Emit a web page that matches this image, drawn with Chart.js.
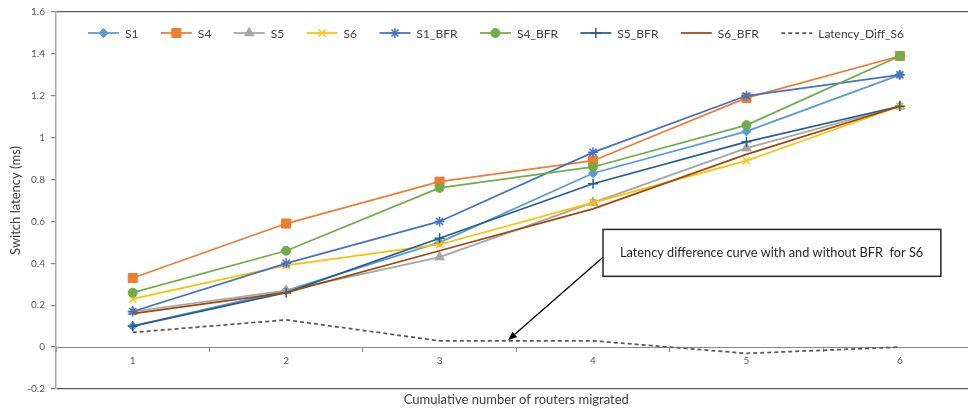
<!DOCTYPE html>
<html>
<head>
<meta charset="utf-8">
<script src="https://cdn.jsdelivr.net/npm/chart.js"></script>
<style>
  html, body { margin: 0; padding: 0; background: #fff; overflow: hidden; }
  #myChart { display: block; }
</style>
</head>
<body>
<!-- plot runs a little past the right edge of the window, like the cropped original -->
<canvas id="myChart" width="984" height="412"></canvas>
<script>
// values
const routers = ['1', '2', '3', '4', '5', '6'];
const s1 = [0.10, 0.27, 0.50, 0.83, 1.03, 1.30];
const s4 = [0.33, 0.59, 0.79, 0.89, 1.19, 1.39];
const s5 = [0.17, 0.27, 0.43, 0.69, 0.95, 1.15];
const s6 = [0.23, 0.39, 0.49, 0.69, 0.89, 1.15];
const s1Bfr = [0.17, 0.40, 0.60, 0.93, 1.20, 1.30];
const s4Bfr = [0.26, 0.46, 0.76, 0.86, 1.06, 1.39];
const s5Bfr = [0.10, 0.26, 0.52, 0.78, 0.98, 1.15];
const s6Bfr = [0.16, 0.26, 0.46, 0.66, 0.92, 1.15];
const latencyDiffS6 = [0.07, 0.13, 0.03, 0.03, -0.03, 0.00];

const yTicks = [-0.2, 0, 0.2, 0.4, 0.6, 0.8, 1, 1.2, 1.4, 1.6];
const noteText = 'Latency difference curve with and without BFR  for S6';

const FONT = 'Lato, "Liberation Sans", sans-serif';

function line(label, data, color, marker, radius, filled, dash) {
  return {
    label: label,
    data: data,
    borderColor: color,
    backgroundColor: filled ? color : 'transparent',
    borderWidth: 1.75,
    borderDash: dash || [],
    pointStyle: marker || false,
    pointRadius: marker ? radius : 0,
    pointBorderColor: color,
    pointBackgroundColor: filled ? color : 'transparent',
    pointBorderWidth: filled ? 1 : 1.5,
    tension: 0
  };
}

const datasets = [
  line('S1', s1, '#5B9BD5', 'rectRot', 4.5, true),
  line('S4', s4, '#ED7D31', 'rect', 6.4, true),
  line('S5', s5, '#A5A5A5', 'triangle', 5.5, true),
  line('S6', s6, '#FFC000', 'crossRot', 5, false),
  line('S1_BFR', s1Bfr, '#4472C4', 'star', 5, false),
  line('S4_BFR', s4Bfr, '#70AD47', 'circle', 4.5, true),
  line('S5_BFR', s5Bfr, '#255E91', 'cross', 5, false),
  line('S6_BFR', s6Bfr, '#9E480E', false, 0, false),
  line('Latency_Diff_S6', latencyDiffS6, '#595959', false, 0, false, [4, 3])
];
// later series sit on top, like the original
datasets.forEach((d, i) => { d.order = -i; });

function near(a, b) { return Math.abs(a - b) < 1e-6; }

const extras = {
  id: 'extras',
  afterDraw(chart) {
    const ctx = chart.ctx;
    const area = chart.chartArea;
    const xs = chart.scales.x;
    const ys = chart.scales.y;

    // legend along the top, inside the plot
    ctx.save();
    ctx.font = '12px ' + FONT;
    ctx.textBaseline = 'middle';
    let lx = 88;
    const ly = 33;
    chart.data.datasets.forEach(d => {
      ctx.strokeStyle = d.borderColor;
      ctx.lineWidth = d.borderWidth;
      ctx.setLineDash(d.borderDash);
      ctx.beginPath();
      ctx.moveTo(lx, ly);
      ctx.lineTo(lx + 31, ly);
      ctx.stroke();
      ctx.setLineDash([]);
      if (d.pointStyle) {
        ctx.fillStyle = d.pointBackgroundColor;
        ctx.strokeStyle = d.pointBorderColor;
        ctx.lineWidth = d.pointBorderWidth;
        Chart.helpers.drawPoint(ctx, {pointStyle: d.pointStyle, radius: d.pointRadius, rotation: 0, borderWidth: d.pointBorderWidth}, lx + 15.5, ly);
      }
      ctx.fillStyle = '#404040';
      ctx.textAlign = 'left';
      ctx.fillText(d.label, lx + 37, ly + 1);
      lx += 37 + ctx.measureText(d.label).width + 22.4;
    });
    ctx.restore();

    // x axis title
    ctx.save();
    ctx.font = '13px ' + FONT;
    ctx.fillStyle = '#404040';
    ctx.textAlign = 'center';
    ctx.textBaseline = 'middle';
    ctx.fillText('Cumulative number of routers migrated', (area.left + area.right) / 2, 400);
    ctx.restore();

    // callout box with arrow pointing at the difference curve
    const bx1 = xs.getPixelForValue(3.065), bx2 = xs.getPixelForValue(5.267);
    const by1 = ys.getPixelForValue(0.562), by2 = ys.getPixelForValue(0.338);
    const ax = bx1, ay = ys.getPixelForValue(0.429);
    const tx = xs.getPixelForValue(2.446), ty = ys.getPixelForValue(0.033);
    ctx.save();
    ctx.fillStyle = '#fff';
    ctx.fillRect(bx1, by1, bx2 - bx1, by2 - by1);
    ctx.strokeStyle = '#262626';
    ctx.lineWidth = 1.5;
    ctx.strokeRect(bx1, by1, bx2 - bx1, by2 - by1);
    ctx.font = '12.75px ' + FONT;
    ctx.fillStyle = '#262626';
    ctx.textBaseline = 'middle';
    ctx.textAlign = 'left';
    ctx.fillText(noteText, bx1 + 17, (by1 + by2) / 2);
    const ang = Math.atan2(ty - ay, tx - ax);
    const hl = 9, hw = 3.5;
    const bx = tx - hl * Math.cos(ang), by = ty - hl * Math.sin(ang);
    ctx.strokeStyle = '#000';
    ctx.lineWidth = 1.25;
    ctx.beginPath();
    ctx.moveTo(ax, ay);
    ctx.lineTo(bx, by);
    ctx.stroke();
    ctx.fillStyle = '#000';
    ctx.beginPath();
    ctx.moveTo(tx, ty);
    ctx.lineTo(bx + hw * Math.sin(ang), by - hw * Math.cos(ang));
    ctx.lineTo(bx - hw * Math.sin(ang), by + hw * Math.cos(ang));
    ctx.closePath();
    ctx.fill();
    ctx.restore();
  }
};

const config = {
  type: 'line',
  data: { labels: routers, datasets: datasets },
  options: {
    responsive: false,
    animation: false,
    layout: { padding: { top: 10, right: 0, bottom: 23, left: 0 } },
    plugins: {
      legend: { display: false },
      tooltip: { enabled: false }
    },
    scales: {
      x: {
        type: 'category',
        offset: true,
        position: { y: 0 },
        grid: {
          offset: true,
          drawOnChartArea: false,
          drawTicks: true,
          tickLength: 4,
          color: '#868686'
        },
        border: { color: '#868686', width: 1 },
        ticks: { font: { family: FONT, size: 10 }, color: '#595959', padding: 4, maxRotation: 0 }
      },
      y: {
        min: -0.2,
        max: 1.6,
        afterBuildTicks: s => { s.ticks = yTicks.map(v => ({ value: v })); },
        afterFit: s => { s.width = 56; },
        grid: {
          color: c => (c.tick && (near(c.tick.value, 1.6) || near(c.tick.value, -0.2))) ? '#595959' : 'rgba(0,0,0,0)',
          tickColor: '#868686',
          tickLength: 5,
          lineWidth: 1.25
        },
        border: { color: '#a6a6a6', width: 1.5 },
        ticks: {
          font: { family: FONT, size: 10 },
          color: '#595959',
          padding: 6,
          callback: v => String(Math.round(v * 10) / 10)
        },
        title: {
          display: true,
          text: 'Switch latency (ms)',
          font: { family: FONT, size: 13 },
          color: '#404040',
          padding: { top: 8, bottom: 0 }
        }
      }
    }
  },
  plugins: [extras]
};

new Chart(document.getElementById('myChart'), config);
</script>
</body>
</html>
